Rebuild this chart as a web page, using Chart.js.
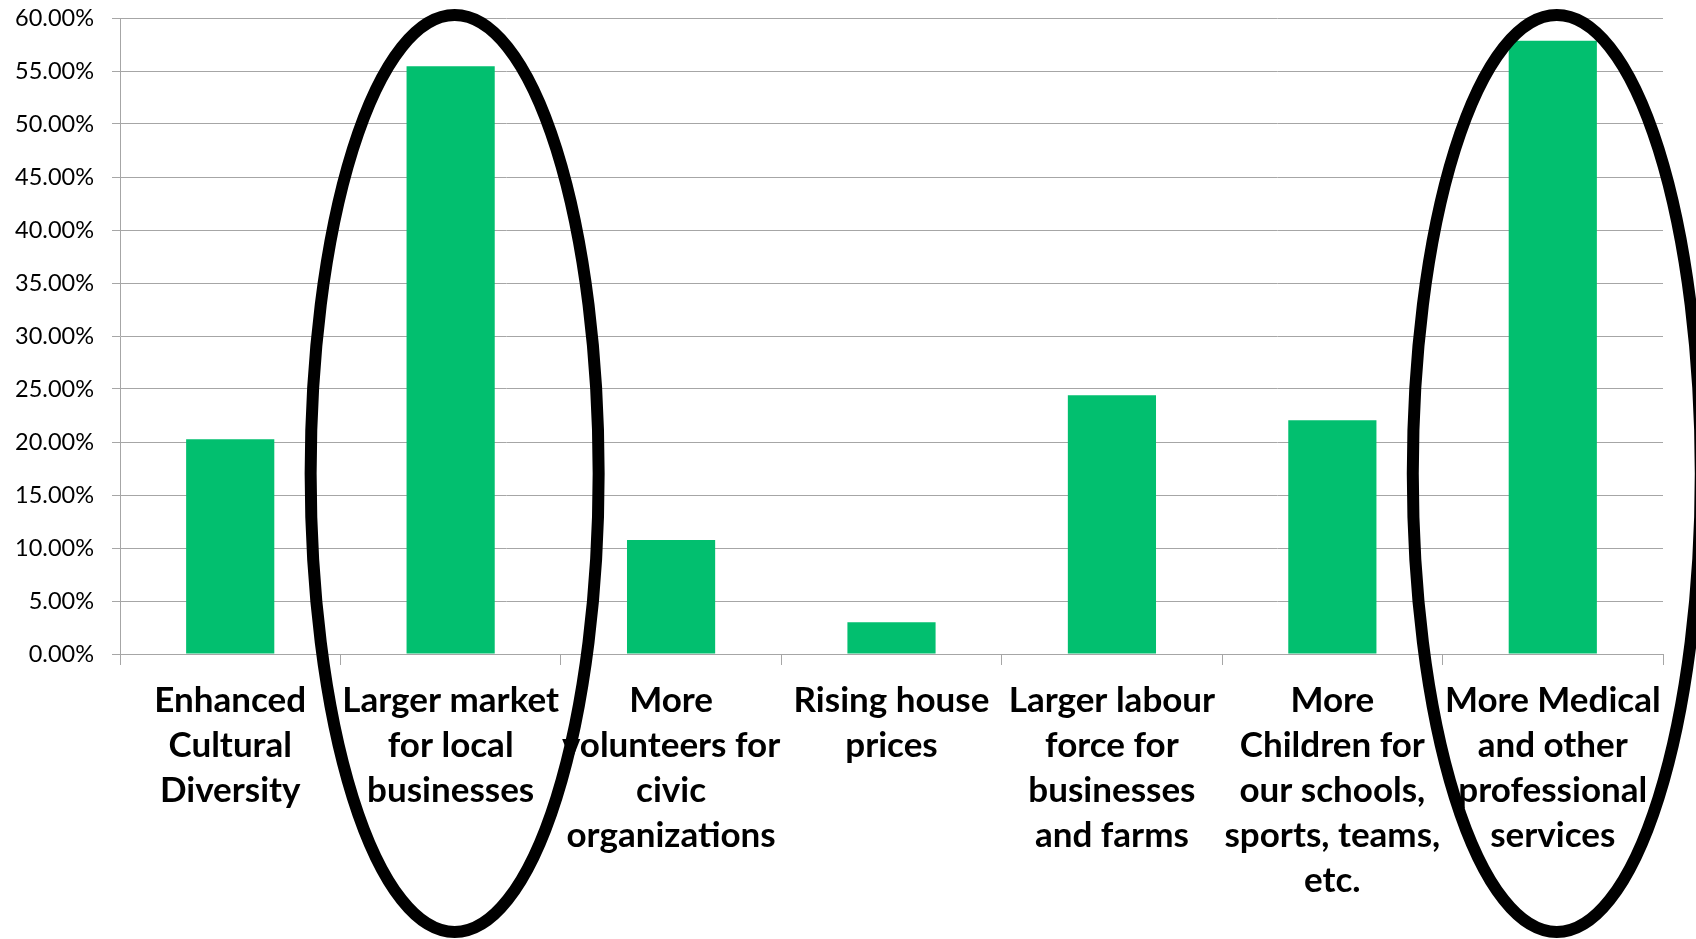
<!DOCTYPE html>
<html>
<head>
<meta charset="utf-8">
<script src="https://cdn.jsdelivr.net/npm/chart.js@4/dist/chart.umd.min.js"></script>
<style>
  html, body { margin: 0; padding: 0; background: #ffffff; }
  #wrap { width: 1696px; height: 939px; position: relative; }
</style>
</head>
<body>
<div id="wrap"><canvas id="c" width="1696" height="939"></canvas></div>
<script>
// ---- data ----
const categories = [
  ["Enhanced", "Cultural", "Diversity"],
  ["Larger market", "for local", "businesses"],
  ["More", "volunteers for", "civic", "organizations"],
  ["Rising house", "prices"],
  ["Larger labour", "force for", "businesses", "and farms"],
  ["More", "Children for", "our schools,", "sports, teams,", "etc."],
  ["More Medical", "and other", "professional", "services"]
];
const values = [20.25, 55.45, 10.75, 3.0, 24.4, 22.05, 57.85];
const yTicksMin = 0;
const yTicksMax = 60;
const yTickStep = 5;
const highlighted = [1, 6]; // categories circled in the reference

const ellipsePlugin = {
  id: 'ellipses',
  afterDraw(chart) {
    const ctx = chart.ctx;
    const xs = chart.scales.x;
    ctx.save();
    ctx.strokeStyle = '#000000';
    ctx.lineWidth = 12;
    highlighted.forEach(i => {
      const cx = xs.getPixelForValue(i) + 4;
      ctx.beginPath();
      ctx.ellipse(cx, 473.5, 144, 458.5, 0, 0, Math.PI * 2);
      ctx.stroke();
    });
    ctx.restore();
  }
};

new Chart(document.getElementById('c'), {
  type: 'bar',
  data: {
    labels: categories,
    datasets: [{
      data: values,
      backgroundColor: '#02BF6F',
      borderWidth: 0,
      categoryPercentage: 0.4,
      barPercentage: 1.0
    }]
  },
  options: {
    responsive: false,
    animation: false,
    devicePixelRatio: 1,
    layout: { padding: { left: 0, right: 33, top: 18, bottom: 0 } },
    plugins: { legend: { display: false }, tooltip: { enabled: false } },
    scales: {
      x: {
        offset: true,
        grid: {
          display: true,
          offset: true,
          drawOnChartArea: false,
          drawTicks: true,
          tickLength: 11,
          color: '#A6A6A6',
          lineWidth: 1
        },
        border: { display: true, color: '#A6A6A6', width: 1 },
        ticks: {
          autoSkip: false,
          maxRotation: 0,
          minRotation: 0,
          padding: 13,
          color: '#000000',
          font: { family: 'Lato, "Open Sans", sans-serif', size: 35, weight: 'bold', lineHeight: 45 / 35 }
        },
        afterFit(scale) {
          scale.height = 285;
          scale.paddingTop = 0; scale.paddingBottom = 0;
        }
      },
      y: {
        min: yTicksMin,
        max: yTicksMax,
        grid: {
          color: '#A6A6A6',
          lineWidth: 1,
          drawTicks: true,
          tickLength: 8
        },
        border: { display: true, color: '#A6A6A6', width: 1 },
        ticks: {
          stepSize: yTickStep,
          padding: 18,
          color: '#000000',
          font: { family: 'Lato, "Open Sans", sans-serif', size: 23.5 },
          callback: v => v.toFixed(2) + '%'
        },
        afterFit(scale) {
          scale.width = 120;
          scale.paddingTop = 0; scale.paddingBottom = 0;
        }
      }
    }
  },
  plugins: [ellipsePlugin]
});
</script>
</body>
</html>
